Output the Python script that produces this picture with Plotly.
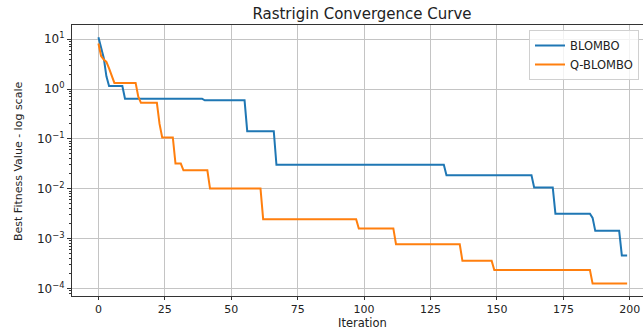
import plotly.graph_objects as go

# BLOMBO (breakpoints of the step curve)
blombo_iter = [0, 1, 2, 3, 4, 9, 10, 39, 40, 55, 56, 66, 67, 130, 131, 163, 164,
               171, 172, 185, 186, 187, 196, 197, 199]
blombo_val = [11.0, 6.5, 4.2, 1.8, 1.15, 1.15, 0.64, 0.64, 0.595, 0.595, 0.143, 0.143,
              0.0302, 0.0302, 0.0186, 0.0186, 0.0106, 0.0106, 0.00316, 0.00316, 0.0026,
              0.00143, 0.00143, 0.000458, 0.000458]

# Q-BLOMBO
qblombo_iter = [0, 1, 2, 3, 4, 5, 6, 14, 15, 16, 22, 23, 24, 28, 29, 31, 32, 41, 42,
                61, 62, 97, 98, 111, 112, 136, 137, 148, 149, 185, 186, 199]
qblombo_val = [8.2, 4.6, 3.9, 3.5, 2.6, 1.8, 1.33, 1.33, 0.7, 0.53, 0.53, 0.2, 0.107,
               0.107, 0.032, 0.032, 0.0234, 0.0234, 0.0101, 0.0101, 0.00245, 0.00245,
               0.0016, 0.0016, 0.00077, 0.00077, 0.000358, 0.000358, 0.000234, 0.000234,
               0.000125, 0.000125]

x_ticks = [0, 25, 50, 75, 100, 125, 150, 175, 200]

FONT = "DejaVu Sans"

fig = go.Figure()
fig.add_trace(go.Scatter(x=blombo_iter, y=blombo_val, mode="lines", name="BLOMBO",
                         line=dict(color="#1f77b4", width=2)))
fig.add_trace(go.Scatter(x=qblombo_iter, y=qblombo_val, mode="lines", name="Q-BLOMBO",
                         line=dict(color="#ff7f0e", width=2)))

W, H = 643, 329
ml, mr, mt, mb = 72, 0, 25, 33
PW, PH = W - ml - mr, H - mt - mb

fig.update_layout(
    width=W, height=H,
    margin=dict(l=ml, r=mr, t=mt, b=mb, pad=0, autoexpand=False),
    paper_bgcolor="white", plot_bgcolor="white",
    font=dict(family=FONT, size=12, color="#222222"),
    title=dict(text="Rastrigin Convergence Curve", x=362 / W, xref="container",
               xanchor="center", y=1 - 14 / H, yref="container", yanchor="middle",
               font=dict(family=FONT, size=15, color="#222222")),
    showlegend=True,
    legend=dict(x=(529 - ml) / PW, y=(H - mb - 30) / PH,
                xanchor="left", yanchor="top", xref="paper", yref="paper",
                bgcolor="rgba(255,255,255,0.8)", bordercolor="#d0d0d0", borderwidth=1,
                font=dict(family=FONT, size=11.5, color="#222222"),
                tracegroupgap=0, itemwidth=30),
    xaxis=dict(
        range=[-9.95, 204.97], tickvals=x_ticks, ticktext=[str(v) for v in x_ticks],
        automargin=False,
        showgrid=True, gridcolor="#c4c4c4", gridwidth=1,
        showline=True, linecolor="#333333", linewidth=1, mirror=True,
        ticks="outside", ticklen=2.5, tickcolor="#333333", zeroline=False,
        tickfont=dict(family=FONT, size=11),
    ),
    yaxis=dict(
        type="log", range=[-4.152, 1.285],
        automargin=False,
        tickvals=[1e-4, 1e-3, 1e-2, 1e-1, 1, 10],
        ticktext=["10<sup>−4</sup>", "10<sup>−3</sup>", "10<sup>−2</sup>",
                  "10<sup>−1</sup>", "10<sup>0</sup>", "10<sup>1</sup>"],
        showgrid=True, gridcolor="#c4c4c4", gridwidth=1,
        showline=True, linecolor="#333333", linewidth=1, mirror=False,
        ticks="outside", ticklen=4, tickcolor="#333333", zeroline=False,
        minor=dict(ticks="outside", ticklen=2, tickcolor="#333333", showgrid=False,
                   tickvals=[m * 10 ** e for e in range(-5, 2) for m in range(2, 10)]),
        tickfont=dict(family=FONT, size=12),
    ),
    annotations=[
        dict(text="Iteration", xref="paper", yref="paper",
             x=(362 - ml) / PW, y=-(322.5 - (H - mb)) / PH, xanchor="center",
             yanchor="middle", showarrow=False, font=dict(family=FONT, size=11.5)),
        dict(text="Best Fitness Value - log scale", xref="paper", yref="paper",
             x=-(ml - 18) / PW, y=(H - mb - 162) / PH, xanchor="center",
             yanchor="middle", textangle=-90, showarrow=False,
             font=dict(family=FONT, size=11)),
    ],
)

fig.write_html("out.html", config={"displayModeBar": False},
               post_script="document.body.style.margin='0';document.body.style.overflow='hidden';")
